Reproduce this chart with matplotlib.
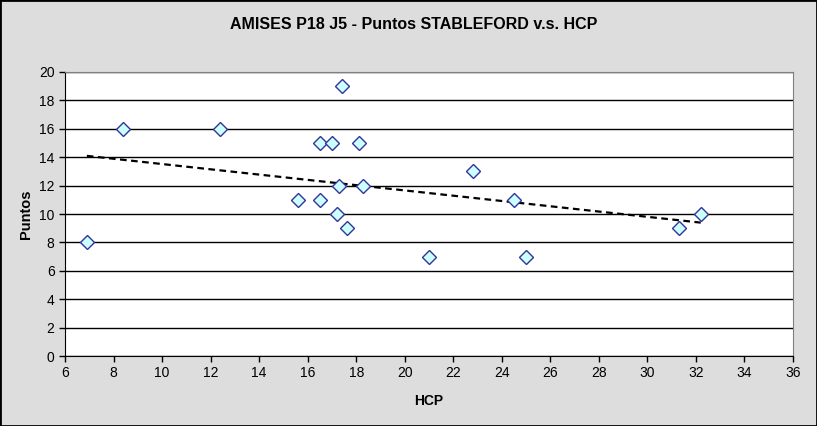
import matplotlib
matplotlib.use('Agg')
import matplotlib.pyplot as plt
import numpy as np

# Data
hcp = [6.9, 8.4, 12.4, 15.6, 16.5, 16.5, 17.0, 17.4, 17.3, 17.2, 17.6, 18.1, 18.3,
       21.0, 22.8, 24.5, 25.0, 31.3, 32.2]
puntos = [8, 16, 16, 11, 15, 11, 15, 19, 12, 10, 9, 15, 12,
          7, 13, 11, 7, 9, 10]

x_ticks = list(range(6, 37, 2))
y_ticks = list(range(0, 21, 2))

plt.rcParams['font.family'] = ['Liberation Sans', 'DejaVu Sans']

fig = plt.figure(figsize=(8.17, 4.26), dpi=100, facecolor='#dddddd')
# outer black frame
fig.patches.append(plt.Rectangle((0, 0), 1, 1, transform=fig.transFigure,
                                 fill=False, edgecolor='black', linewidth=2))
ax = fig.add_axes([0.0796, 0.1643, 0.8910, 0.6667])
ax.set_facecolor('white')

# gridlines
ax.set_axisbelow(True)
ax.yaxis.grid(True, color='black', linewidth=1)

# linear trend line
coef = np.polyfit(hcp, puntos, 1)
tx = np.array([min(hcp), max(hcp)])
ax.plot(tx, np.polyval(coef, tx), linestyle=(0, (3, 2)), color='black', linewidth=1.6, zorder=2)

ax.plot(hcp, puntos, linestyle='none', marker='D', markersize=7.5,
        markerfacecolor='#ccffff', markeredgecolor='#333399', markeredgewidth=1, zorder=3)

ax.set_xlim(6, 36)
ax.set_ylim(0, 20)
ax.set_xticks(x_ticks)
ax.set_yticks(y_ticks)
ax.tick_params(direction='out', length=4, width=1, labelsize=10, color='black')

for s in ['top', 'right']:
    ax.spines[s].set_color('#808080')
for s in ['left', 'bottom']:
    ax.spines[s].set_color('black')

fig.text(0.506, 0.943, 'AMISES P18 J5 - Puntos STABLEFORD v.s. HCP', fontsize=11.5,
         fontweight='bold', ha='center', va='center')
ax.set_xlabel('HCP', fontsize=10, fontweight='bold', labelpad=10)
ax.set_ylabel('Puntos', fontsize=10.5, fontweight='bold', labelpad=4)

fig.savefig('out.png', dpi=100, facecolor=fig.get_facecolor())
